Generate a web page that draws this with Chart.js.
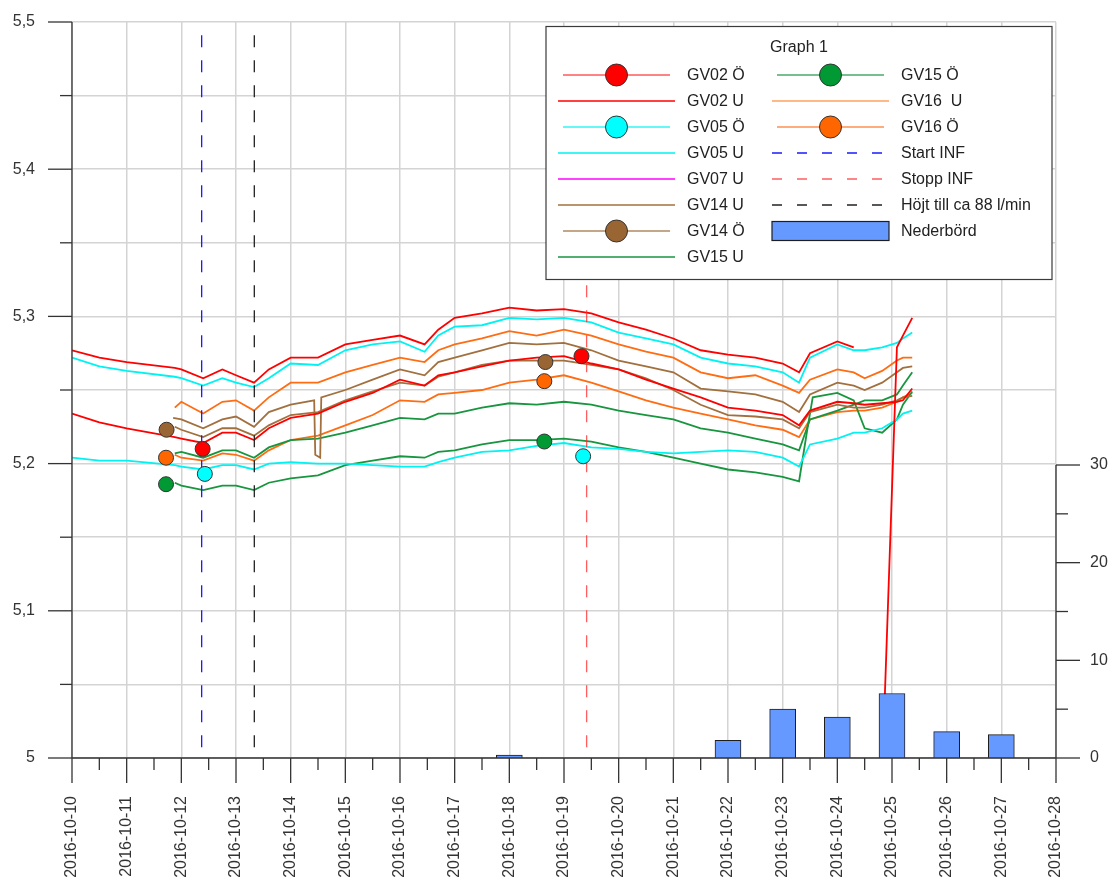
<!DOCTYPE html>
<html>
<head>
<meta charset="utf-8">
<script src="https://cdn.jsdelivr.net/npm/chart.js@4.4.1/dist/chart.umd.min.js"></script>
<style>html,body{margin:0;padding:0;background:#fff;}canvas{display:block;}</style>
</head>
<body>
<canvas id="c" width="1112" height="882"></canvas>
<script>
// ---------- DATA ----------
// x values are days since 2016-10-10 00:00
const dateLabels = ['2016-10-10','2016-10-11','2016-10-12','2016-10-13','2016-10-14','2016-10-15','2016-10-16','2016-10-17','2016-10-18','2016-10-19','2016-10-20','2016-10-21','2016-10-22','2016-10-23','2016-10-24','2016-10-25','2016-10-26','2016-10-27','2016-10-28'];
const leftTickLabelsEvery = 0.1;
const precipTickLabels = [0, 10, 20, 30];

const tU = [0,0.5,1,1.88,2,2.4,2.75,3,3.33,3.6,4,4.5,5,5.5,6,6.45,6.7,7,7.5,8,8.5,9,9.5,10,10.5,11,11.5,12,12.5,13,13.3,13.5,14,14.3,14.5,14.82,15.09,15.2,15.37];

const gv02U_a = [5.277,5.272,5.269,5.265,5.264,5.258,5.264,5.260,5.255,5.264,5.272,5.272,5.281,5.284,5.287,5.281,5.291,5.299,5.302,5.306,5.304,5.305,5.302,5.296,5.291,5.285,5.277,5.274,5.272,5.268,5.262,5.275,5.283,5.279,null,4.99,5.279,5.287,5.299];
const gv02U_b = [5.234,5.228,5.224,5.218,5.217,5.214,5.221,5.221,5.216,5.224,5.231,5.234,5.242,5.248,5.257,5.253,5.260,5.262,5.266,5.270,5.272,5.273,5.268,5.264,5.257,5.251,5.245,5.238,5.236,5.233,5.226,5.236,5.242,5.241,5.240,5.241,5.242,5.243,5.251];
const gv05U_a = [5.272,5.266,5.263,5.259,5.258,5.253,5.258,5.255,5.252,5.258,5.268,5.267,5.277,5.281,5.283,5.276,5.287,5.293,5.294,5.299,5.298,5.299,5.296,5.289,5.285,5.281,5.272,5.268,5.266,5.262,5.255,5.272,5.281,5.277,5.277,5.279,5.282,5.285,5.289];
const gv05U_b = [5.204,5.202,5.202,5.199,5.198,5.196,5.199,5.199,5.196,5.200,5.201,5.200,5.200,5.199,5.198,5.198,5.201,5.204,5.208,5.209,5.212,5.214,5.211,5.210,5.208,5.207,5.208,5.209,5.208,5.204,5.198,5.213,5.217,5.221,5.221,5.224,5.230,5.234,5.236];
const gv07U = [];
const gv16U_a = [null,null,null,5.238,5.242,5.234,5.242,5.243,5.236,5.245,5.255,5.255,5.262,5.267,5.272,5.269,5.277,5.281,5.285,5.290,5.287,5.291,5.287,5.281,5.276,5.272,5.262,5.258,5.260,5.253,5.248,5.257,5.264,5.262,5.258,5.263,5.270,5.272,5.272];
const gv16U_b = [null,null,null,5.206,5.204,5.202,5.207,5.206,5.202,5.209,5.216,5.219,5.226,5.233,5.243,5.242,5.247,5.248,5.250,5.255,5.257,5.260,5.255,5.249,5.243,5.238,5.234,5.230,5.226,5.223,5.218,5.230,5.235,5.236,5.236,5.238,5.242,5.245,5.248];
const gv14U_b = [null,null,null,5.225,5.223,5.218,5.224,5.224,5.219,5.226,5.233,5.235,5.243,5.249,5.255,5.253,5.259,5.262,5.267,5.270,5.270,5.270,5.267,5.264,5.258,5.250,5.240,5.233,5.232,5.230,5.224,5.235,5.240,5.238,5.238,5.240,5.243,5.245,5.246];
const gv15U_a = [null,null,null,5.207,5.208,5.204,5.209,5.209,5.204,5.211,5.216,5.217,5.221,5.226,5.231,5.230,5.234,5.234,5.238,5.241,5.240,5.242,5.240,5.236,5.233,5.230,5.224,5.221,5.217,5.213,5.209,5.230,5.236,5.240,5.243,5.243,5.247,5.253,5.262];

const tGv14A = [1.85,2,2.4,2.75,3,3.33,3.6,4,4.43,4.45,4.54,4.56,5,5.5,6,6.45,6.7,7,7.5,8,8.5,9,9.5,10,10.5,11,11.5,12,12.5,13,13.3,13.5,14,14.3,14.5,14.82,15.09,15.2,15.37];
const gv14U_a = [5.231,5.230,5.224,5.230,5.232,5.225,5.235,5.240,5.243,5.206,5.204,5.245,5.250,5.257,5.264,5.260,5.269,5.272,5.277,5.282,5.281,5.282,5.277,5.270,5.266,5.262,5.251,5.249,5.247,5.242,5.235,5.247,5.255,5.253,5.250,5.255,5.262,5.265,5.266];

const tGv15B = [1.88,2,2.4,2.75,3,3.33,3.6,4,4.5,5,5.5,6,6.45,6.7,7,7.5,8,8.5,9,9.5,10,10.5,11,11.5,12,12.5,13,13.3,13.45,13.55,14,14.3,14.5,14.82,15.09,15.2,15.37];
const gv15U_b = [5.187,5.185,5.182,5.185,5.185,5.182,5.187,5.190,5.192,5.199,5.202,5.205,5.204,5.208,5.209,5.213,5.216,5.216,5.217,5.215,5.211,5.208,5.204,5.200,5.196,5.194,5.191,5.188,5.223,5.245,5.248,5.243,5.224,5.221,5.230,5.240,5.249];

// manual readings (Ö)
const manT_GV02 = [2.39, 9.32], manV_GV02 = [5.210, 5.273];
const manT_GV05 = [2.43, 9.35], manV_GV05 = [5.193, 5.205];
const manT_GV14 = [1.73, 8.66], manV_GV14 = [5.223, 5.269];
const manT_GV15 = [1.72, 8.64], manV_GV15 = [5.186, 5.215];
const manT_GV16 = [1.72, 8.64], manV_GV16 = [5.204, 5.256];

// event markers (vertical dashed lines)
const eventLabels = ['Start INF', 'Stopp INF', 'Höjt till ca 88 l/min'];
const eventT = [2.372, 9.414, 3.335];
const eventYRange = [5.491, 5.0];

// precipitation (mm)
const precipT = [8, 12, 13, 14, 15, 16, 17];
const precipMm = [0.3, 1.8, 5.0, 4.2, 6.6, 2.7, 2.4];
const precipAxisMax = 75.36;

// legend layout (labels)
const legendTitle = 'Graph 1';
const legendLeft = ['GV02 Ö','GV02 U','GV05 Ö','GV05 U','GV07 U','GV14 U','GV14 Ö','GV15 U'];
const legendRight = ['GV15 Ö','GV16  U','GV16 Ö','Start INF','Stopp INF','Höjt till ca 88 l/min','Nederbörd'];

// ---------- STYLE ----------
const FONT = '"Liberation Sans", Arial, Helvetica, sans-serif';
const COL = {
  red:'#ff0000', cyan:'#00f2f2', mag:'#ff00ff', brown:'#a2703e', green:'#17963f', orange:'#ff6c12',
  redM:'#ff0000', cyanM:'#00ffff', brownM:'#996633', greenM:'#009933', orangeM:'#ff6600'
};
const pts = (t, v) => t.map((x, i) => ({x, y: v[i]}));

function uLine(label, t, v, color, legendColor) {
  return {type:'line', label, data: pts(t, v), borderColor: color, legendColor: legendColor || color,
    borderWidth: 1.8, pointRadius: 0, tension: 0, spanGaps: false, order: 2, yAxisID: 'y'};
}
function manual(label, t, v, fill, lineColor) {
  return {type:'line', label, data: pts(t, v), showLine: false, borderColor: lineColor, legendColor: lineColor,
    pointBackgroundColor: fill, pointBorderColor: '#333', pointBorderWidth: 1, pointRadius: 7.5, order: 0, yAxisID: 'y'};
}
function eventLine(i, color) {
  return {type:'line', label: eventLabels[i], data: eventYRange.map(y => ({x: eventT[i], y})),
    borderColor: color, legendColor: color, borderWidth: 1.3, borderDash: [12, 13], pointRadius: 0, order: 1, yAxisID: 'y'};
}

const datasets = [
  uLine('GV02 U', tU, gv02U_a, COL.red),
  uLine('GV02 U', tU, gv02U_b, COL.red),
  uLine('GV05 U', tU, gv05U_a, COL.cyan),
  uLine('GV05 U', tU, gv05U_b, COL.cyan),
  uLine('GV07 U', tU, gv07U, COL.mag),
  uLine('GV14 U', tGv14A, gv14U_a, COL.brown),
  uLine('GV14 U', tU, gv14U_b, COL.brown),
  uLine('GV15 U', tU, gv15U_a, COL.green),
  uLine('GV15 U', tGv15B, gv15U_b, COL.green),
  uLine('GV16  U', tU, gv16U_a, COL.orange, '#ffa060'),
  uLine('GV16  U', tU, gv16U_b, COL.orange, '#ffa060'),
  manual('GV02 Ö', manT_GV02, manV_GV02, COL.redM, '#ff5a5a'),
  manual('GV05 Ö', manT_GV05, manV_GV05, COL.cyanM, '#33f5f5'),
  manual('GV14 Ö', manT_GV14, manV_GV14, COL.brownM, '#b08860'),
  manual('GV15 Ö', manT_GV15, manV_GV15, COL.greenM, '#4aaa6a'),
  manual('GV16 Ö', manT_GV16, manV_GV16, COL.orangeM, '#ff9050'),
  eventLine(0, '#1a1aff'),
  eventLine(1, 'rgba(255,40,40,0.75)'),
  eventLine(2, '#222222'),
  {type:'bar', label:'Nederbörd', data: pts(precipT, precipMm), yAxisID:'y2',
   backgroundColor:'#6699ff', borderColor:'#1e1e1e', borderWidth:1, borderSkipped:'bottom', barThickness:26, order:0}
];

// ---------- PLUGIN: axes ticks + boxed legend ----------
const isMajorLeft = v => Math.round(v * 100) % Math.round(leftTickLabelsEvery * 100) === 0;

const decor = {
  id: 'decor',
  afterDraw(chart) {
    const ctx = chart.ctx, ca = chart.chartArea;
    const xs = chart.scales.x, ys = chart.scales.y, y2 = chart.scales.y2;
    const line = (x0, y0, x1, y1) => { ctx.beginPath(); ctx.moveTo(x0, y0); ctx.lineTo(x1, y1); ctx.stroke(); };
    ctx.save();
    ctx.strokeStyle = '#333';
    ctx.lineWidth = 1.3;
    ctx.setLineDash([]);
    // left axis
    line(ca.left, ca.top, ca.left, ca.bottom);
    ys.ticks.forEach(t => {
      const p = ys.getPixelForValue(t.value);
      line(ca.left - (isMajorLeft(t.value) ? 24 : 12), p, ca.left, p);
    });
    // bottom axis
    line(ca.left, ca.bottom, ca.right, ca.bottom);
    xs.ticks.forEach(t => {
      const p = xs.getPixelForValue(t.value);
      line(p, ca.bottom, p, ca.bottom + 25);
      if (t.value < xs.max) {
        const q = xs.getPixelForValue(t.value + 0.5);
        line(q, ca.bottom, q, ca.bottom + 12);
      }
    });
    // right (precipitation) axis, only 0..30
    const topVal = precipTickLabels[precipTickLabels.length - 1];
    line(ca.right, y2.getPixelForValue(0), ca.right, y2.getPixelForValue(topVal));
    y2.ticks.forEach(t => {
      if (t.value > topVal + 1e-9) return;
      const p = y2.getPixelForValue(t.value);
      const major = precipTickLabels.includes(t.value);
      line(ca.right, p, ca.right + (major ? 24 : 12), p);
    });

    // legend box
    const bx = ca.right - 510, by = ca.top + 4.5, bw = 506, bh = 253;
    ctx.fillStyle = '#fff';
    ctx.fillRect(bx, by, bw, bh);
    ctx.strokeStyle = '#3a3a3a';
    ctx.lineWidth = 1.2;
    ctx.strokeRect(bx, by, bw, bh);
    ctx.fillStyle = '#222';
    ctx.font = '16px ' + FONT;
    ctx.textBaseline = 'middle';
    ctx.textAlign = 'center';
    ctx.fillText(legendTitle, bx + bw / 2, by + 21);
    ctx.textAlign = 'left';

    const find = lbl => chart.data.datasets.find(d => d.label === lbl);
    const drawItem = (lbl, col, row) => {
      const ds = find(lbl);
      const x0 = bx + 12 + col * 214, x1 = x0 + 117, cx = (x0 + x1) / 2, tx = x0 + 129;
      const y = by + 48.5 + row * 26;
      ctx.save();
      if (ds.type === 'bar') {
        ctx.fillStyle = ds.backgroundColor;
        ctx.fillRect(x0, y - 9.5, x1 - x0, 19);
        ctx.strokeStyle = ds.borderColor; ctx.lineWidth = 1.2;
        ctx.strokeRect(x0, y - 9.5, x1 - x0, 19);
      } else if (ds.showLine === false) {
        ctx.strokeStyle = ds.legendColor; ctx.lineWidth = 1.3;
        line(x0 + 5, y, x1 - 5, y);
        ctx.beginPath(); ctx.arc(cx, y, 11, 0, Math.PI * 2);
        ctx.fillStyle = ds.pointBackgroundColor; ctx.fill();
        ctx.strokeStyle = '#333'; ctx.lineWidth = 1; ctx.stroke();
      } else {
        ctx.strokeStyle = ds.legendColor; ctx.lineWidth = 1.3;
        if (ds.borderDash) ctx.setLineDash([10, 15]);
        line(x0, y, x1, y);
      }
      ctx.restore();
      ctx.fillStyle = '#222';
      ctx.fillText(lbl, tx, y + 1);
    };
    legendLeft.forEach((l, i) => drawItem(l, 0, i));
    legendRight.forEach((l, i) => drawItem(l, 1, i));
    ctx.restore();
  }
};

new Chart(document.getElementById('c').getContext('2d'), {
  type: 'line',
  data: { datasets },
  options: {
    responsive: false,
    animation: false,
    devicePixelRatio: 1,
    layout: { padding: { top: 22, left: 0, right: 0, bottom: 0 } },
    plugins: { legend: { display: false }, tooltip: { enabled: false } },
    scales: {
      x: {
        type: 'linear', min: 0, max: dateLabels.length - 1, offset: false,
        ticks: { stepSize: 1, autoSkip: false, maxRotation: 90, minRotation: 90, padding: 38,
                 color: '#333', font: { family: FONT, size: 16 },
                 callback: v => dateLabels[Math.round(v)] ?? '' },
        grid: { color: '#d4d4d4', lineWidth: 1.5, drawTicks: false, offset: false },
        border: { display: false },
        afterFit: s => { s.height = 124; s.paddingLeft = 0; s.paddingRight = 0; s.paddingTop = 0; s.paddingBottom = 0; }
      },
      y: {
        position: 'left', min: 5, max: 5.5,
        ticks: { stepSize: 0.05, autoSkip: false, padding: 37, color: '#333', font: { family: FONT, size: 16 },
                 callback: v => isMajorLeft(v) ? String(Math.round(v * 10) / 10).replace('.', ',') : '' },
        grid: { color: '#d4d4d4', lineWidth: 1.5, drawTicks: false },
        border: { display: false },
        afterFit: s => { s.width = 72; s.paddingTop = 0; s.paddingBottom = 0; s.paddingLeft = 0; s.paddingRight = 0; }
      },
      y2: {
        position: 'right', min: 0, max: precipAxisMax,
        ticks: { stepSize: 5, autoSkip: false, padding: 34, color: '#333', font: { family: FONT, size: 16 },
                 callback: v => precipTickLabels.includes(v) ? String(v) : '' },
        grid: { display: false, drawTicks: false },
        border: { display: false },
        afterFit: s => { s.width = 56; s.paddingTop = 0; s.paddingBottom = 0; s.paddingLeft = 0; s.paddingRight = 0; }
      }
    }
  },
  plugins: [decor]
});
</script>
</body>
</html>
